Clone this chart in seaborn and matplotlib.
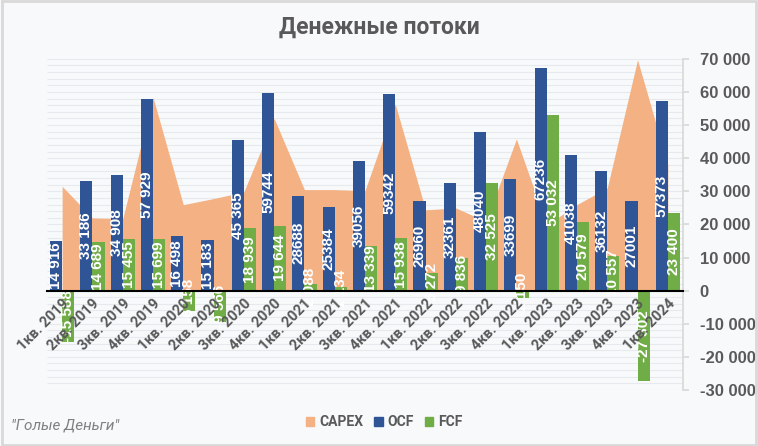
import numpy as np
import pandas as pd
import seaborn as sns
import matplotlib.pyplot as plt
from matplotlib.patches import Patch, Rectangle
from matplotlib.ticker import FuncFormatter

quarters = ["1кв. 2019", "2кв. 2019", "3кв. 2019", "4кв. 2019",
            "1кв. 2020", "2кв. 2020", "3кв. 2020", "4кв. 2020",
            "1кв. 2021", "2кв. 2021", "3кв. 2021", "4кв. 2021",
            "1кв. 2022", "2кв. 2022", "3кв. 2022", "4кв. 2022",
            "1кв. 2023", "2кв. 2023", "3кв. 2023", "4кв. 2023",
            "1кв. 2024"]
ocf = [14916, 33186, 34908, 57929, 16498, 15183, 45365, 59744, 28688, 25384, 39056,
       59342, 26960, 32361, 48040, 33699, 67236, 41038, 36132, 27001, 57373]
fcf = [-15588, 14689, 15455, 15699, -6158, -9566, 18939, 19644, 2088, 1134, 13339,
       15938, 5272, 9836, 32525, -2150, 53032, 20579, 10557, -27302, 23400]
capex = [31500, 21950, 21700, 58400, 25950, 27800, 29800, 52000, 30500, 30500, 30200,
         56300, 24400, 24950, 20900, 45800, 19800, 26000, 31000, 69700, 38000]
# OCF labels of the first quarters were typed with a thousands space
ocf_spaced = 7

BG = "#F7F9FB"
GREY = "#595959"
COLORS = {"CAPEX": "#F4B183", "OCF": "#2F5597", "FCF": "#70AD47"}
ARIAL = ["Liberation Sans", "DejaVu Sans"]


def fmt(v, spaced=True):
    s = f"{int(v):,}"
    return s.replace(",", " ") if spaced else s.replace(",", "")


sns.set_theme(style="white")
plt.rcParams['font.family'] = ['Roboto', 'DejaVu Sans']

fig = plt.figure(figsize=(7.58, 4.46), dpi=100, facecolor=BG)
ax = fig.add_axes([0.062, 0.1256, 0.839, 0.7426])
ax.set_facecolor(BG)

n = len(quarters)
x = np.arange(n)

# light grid drawn by hand so the tick labels can stay above the bars
grid_levels = np.arange(-30000, 70001, 2000)
ax.hlines(grid_levels, -0.5, n - 0.5, color="#E6EAEE", lw=0.8, zorder=0.5)

ax.fill_between(x, capex, 0, color=COLORS["CAPEX"], lw=0, zorder=1)

df = pd.DataFrame({
    "quarter": quarters * 2,
    "value": ocf + fcf,
    "series": ["OCF"] * n + ["FCF"] * n,
})
sns.barplot(data=df, x="quarter", y="value", hue="series", hue_order=["OCF", "FCF"],
            palette=COLORS, width=0.8, saturation=1, legend=False, ax=ax, zorder=2,
            linewidth=0, edgecolor="none")

# labels in the middle of the bars
for k, cont in enumerate(ax.containers):
    vals = ocf if k == 0 else fcf
    for i, bar in enumerate(cont):
        v = vals[i]
        spaced = (i < ocf_spaced) if k == 0 else True
        ax.text(bar.get_x() + bar.get_width() / 2, v / 2, fmt(v, spaced),
                rotation=90, ha="center", va="center", color="white",
                fontsize=11, fontweight="bold", zorder=2.2, family=ARIAL)

ax.set_xlim(-0.5, n - 0.5)
ax.set_ylim(-30000, 70000)
ax.set_xlabel("")
ax.set_ylabel("")
ax.grid(False)
ax.set_axisbelow(False)

ax.yaxis.tick_right()
ax.set_yticks(np.arange(-30000, 70001, 10000))
ax.yaxis.set_major_formatter(FuncFormatter(lambda v, p: fmt(v)))
ax.tick_params(axis="y", which="major", length=4, color="#D9D9D9", pad=8)

ax.set_xticks(x)
ax.set_xticks(np.arange(-0.5, n, 1), minor=True)
ax.set_xticklabels(quarters)
ax.tick_params(axis="x", which="major", length=0, pad=4)
ax.tick_params(axis="x", which="minor", length=4, width=1.2, color="black")

for s in ["left", "top"]:
    ax.spines[s].set_visible(False)
ax.spines["right"].set_color("#D9D9D9")
ax.spines["bottom"].set_position(("data", 0))
ax.spines["bottom"].set_color("black")
ax.spines["bottom"].set_linewidth(1.5)
ax.spines["bottom"].set_zorder(5)

plt.setp(ax.get_xticklabels(), rotation=45, ha="right", rotation_mode="anchor",
         fontsize=10.5, fontweight="bold", color=GREY)
plt.setp(ax.get_yticklabels(), fontsize=12, fontweight="bold", color=GREY, family=ARIAL)

fig.text(0.5, 0.94, "Денежные потоки", ha="center", va="center", fontsize=16.5,
         fontweight="bold", color=GREY)
fig.text(0.014, 0.047, "\"Голые Деньги\"", ha="left", va="center", fontsize=11,
         style="italic", color="#808080")

handles = [Patch(color=COLORS[k]) for k in ["CAPEX", "OCF", "FCF"]]
leg = fig.legend(handles, ["CAPEX", "OCF", "FCF"], loc="center",
                 bbox_to_anchor=(0.507, 0.053), ncol=3, frameon=False,
                 handlelength=0.6, handleheight=0.6, handletextpad=0.35,
                 columnspacing=0.8, prop={"weight": "bold", "size": 10})
for t in leg.get_texts():
    t.set_color(GREY)

fig.patches.append(Rectangle((0.002, 0.003), 0.996, 0.994, transform=fig.transFigure,
                             fill=False, edgecolor="#D9D9D9", lw=2))

fig.savefig("out.png", dpi=100, facecolor=BG)
